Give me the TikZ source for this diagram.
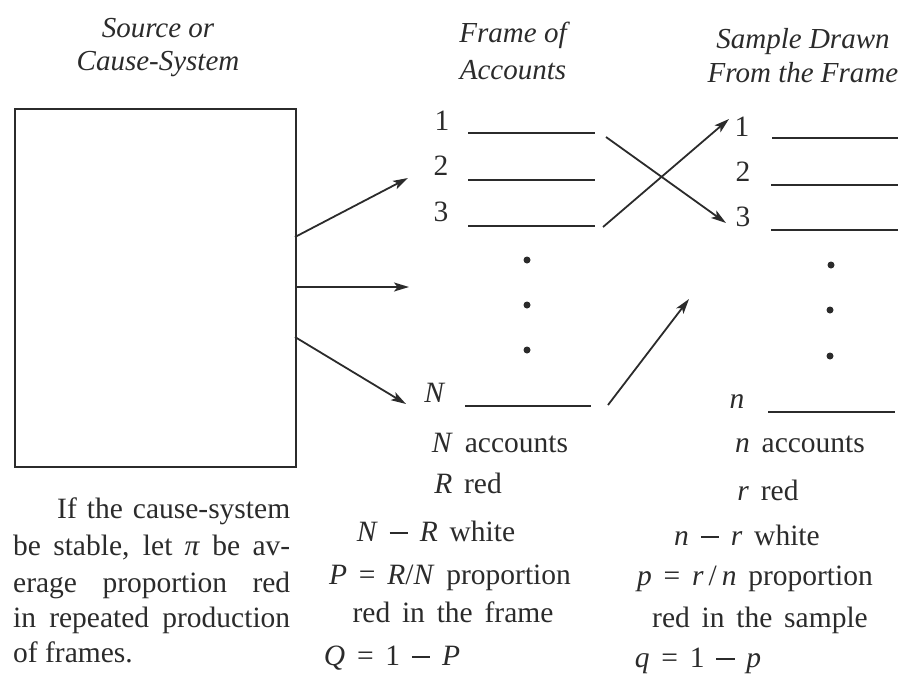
\documentclass[tikz,border=0pt]{standalone}
\usepackage{fontspec}
\setmainfont{Liberation Serif}
\usetikzlibrary{arrows.meta}
\definecolor{ink}{gray}{0.17}
\newcommand{\gapx}{\hspace{0.4em}}
\newcommand{\mminus}{\raisebox{0.24em}{\rule{0.62em}{0.055em}}}
\begin{document}
\begin{tikzpicture}[x=1pt,y=-1pt,
  txt/.style={font=\fontsize{29.5}{35}\selectfont, inner sep=0pt, text=ink, anchor=base},
  ttl/.style={font=\fontsize{29}{35}\selectfont\itshape, inner sep=0pt, text=ink, anchor=base},
  num/.style={font=\fontsize{29.5}{35}\selectfont, inner sep=0pt, text=ink, anchor=base},
  arr/.style={draw=ink, line width=1.8pt, -{Stealth[length=15pt,width=9pt,inset=3.5pt]}},
  rulel/.style={draw=ink, line width=1.4pt},
  dotm/.style={circle, fill=ink, inner sep=0pt, minimum size=7pt},
  para/.style={font=\fontsize{29.5}{35}\selectfont, inner sep=0pt, text=ink, anchor=base west}]
\useasboundingbox (0,0) rectangle (902,675);

% titles
\node[ttl] (t1a) at (158,37) {Source or};
\node[ttl] (t1b) at (158,70) {Cause-System};
\node[ttl] (t2a) at (513,42) {Frame of};
\node[ttl] (t2b) at (513,79) {Accounts};
\node[ttl] (t3a) at (803,48) {Sample Drawn};
\node[ttl] (t3b) at (803,82) {From the Frame};

% source box
\node[draw=ink, line width=1.8pt, minimum width=281pt, minimum height=358pt,
      anchor=north west, inner sep=0pt] (src) at (14,108) {};

% frame list
\node[num] (f1) at (442,130) {1};
\node[num] (f2) at (441,175) {2};
\node[num] (f3) at (441,221) {3};
\node[num] (fN) at (435,402) {\textit{N}};
\coordinate (f1a) at (468,133); \coordinate (f1b) at (595,133);
\coordinate (f2a) at (468,180); \coordinate (f2b) at (595,180);
\coordinate (f3a) at (468,226); \coordinate (f3b) at (595,226);
\coordinate (fNa) at (465,406); \coordinate (fNb) at (591,406);
\draw[rulel] (f1a) -- (f1b);
\draw[rulel] (f2a) -- (f2b);
\draw[rulel] (f3a) -- (f3b);
\draw[rulel] (fNa) -- (fNb);
\node[dotm] (fd1) at (527,260) {};
\node[dotm] (fd2) at (527,305) {};
\node[dotm] (fd3) at (527,350) {};

% sample list
\node[num] (s1) at (742,136) {1};
\node[num] (s2) at (743,181) {2};
\node[num] (s3) at (743,226) {3};
\node[num] (sn) at (737,408) {\textit{n}};
\coordinate (s1a) at (772,138); \coordinate (s1b) at (898,138);
\coordinate (s2a) at (771,185); \coordinate (s2b) at (898,185);
\coordinate (s3a) at (771,230); \coordinate (s3b) at (898,230);
\coordinate (sna) at (768,412); \coordinate (snb) at (895,412);
\draw[rulel] (s1a) -- (s1b);
\draw[rulel] (s2a) -- (s2b);
\draw[rulel] (s3a) -- (s3b);
\draw[rulel] (sna) -- (snb);
\node[dotm] (sd1) at (831,265) {};
\node[dotm] (sd2) at (830,310) {};
\node[dotm] (sd3) at (830,356) {};

% arrows from source to frame
\coordinate (a1s) at (295,237); \coordinate (a1e) at (408,178);
\coordinate (a2s) at (295,287); \coordinate (a2e) at (409,287);
\coordinate (a3s) at (295,337); \coordinate (a3e) at (406,404);
\draw[arr] (a1s) -- (a1e);
\draw[arr] (a2s) -- (a2e);
\draw[arr] (a3s) -- (a3e);

% arrows from frame to sample
\coordinate (c1s) at (606,137); \coordinate (c1e) at (726,223);
\coordinate (c2s) at (603,227); \coordinate (c2e) at (729,119);
\coordinate (c3s) at (608,405); \coordinate (c3e) at (689,299);
\draw[arr] (c1s) -- (c1e);
\draw[arr] (c2s) -- (c2e);
\draw[arr] (c3s) -- (c3e);

% frame description
\node[txt] (fa) at (500,452) {\textit{N}\gapx accounts};
\node[txt] (fb) at (468,493) {\textit{R}\gapx red};
\node[txt] (fc) at (436,541) {\textit{N}\gapx\mminus\gapx\textit{R}\gapx white};
\node[txt] (fd) at (450,584) {\textit{P}\gapx=\gapx\textit{R}/\textit{N}\gapx proportion};
\node[txt] (fe) at (453,622) {red\gapx in\gapx the\gapx frame};
\node[txt] (ff) at (392,665) {\textit{Q}\gapx=\gapx 1\gapx\mminus\gapx\textit{P}};

% sample description
\node[txt] (sa) at (800,452) {\textit{n}\gapx accounts};
\node[txt] (sb) at (768,500) {\textit{r}\gapx red};
\node[txt] (sc) at (747,545) {\textit{n}\gapx\mminus\gapx\textit{r}\gapx white};
\node[txt] (sd) at (755,585) {\textit{p}\gapx=\gapx\textit{r}\,/\,\textit{n}\gapx proportion};
\node[txt] (se) at (760,627) {red\gapx in\gapx the\gapx sample};
\node[txt] (sf) at (698,667) {\textit{q}\gapx=\gapx 1\gapx\mminus\gapx\textit{p}};

% paragraph
\node[para] (p1) at (57,518) {\makebox[233pt][s]{If the cause-system}};
\node[para] (p2) at (13,555) {\makebox[277pt][s]{be stable, let \textit{π} be av-}};
\node[para] (p3) at (13,592) {\makebox[277pt][s]{erage proportion red}};
\node[para] (p4) at (13,627) {\makebox[277pt][s]{in repeated production}};
\node[para] (p5) at (13,662) {of frames.};
\end{tikzpicture}
\end{document}
